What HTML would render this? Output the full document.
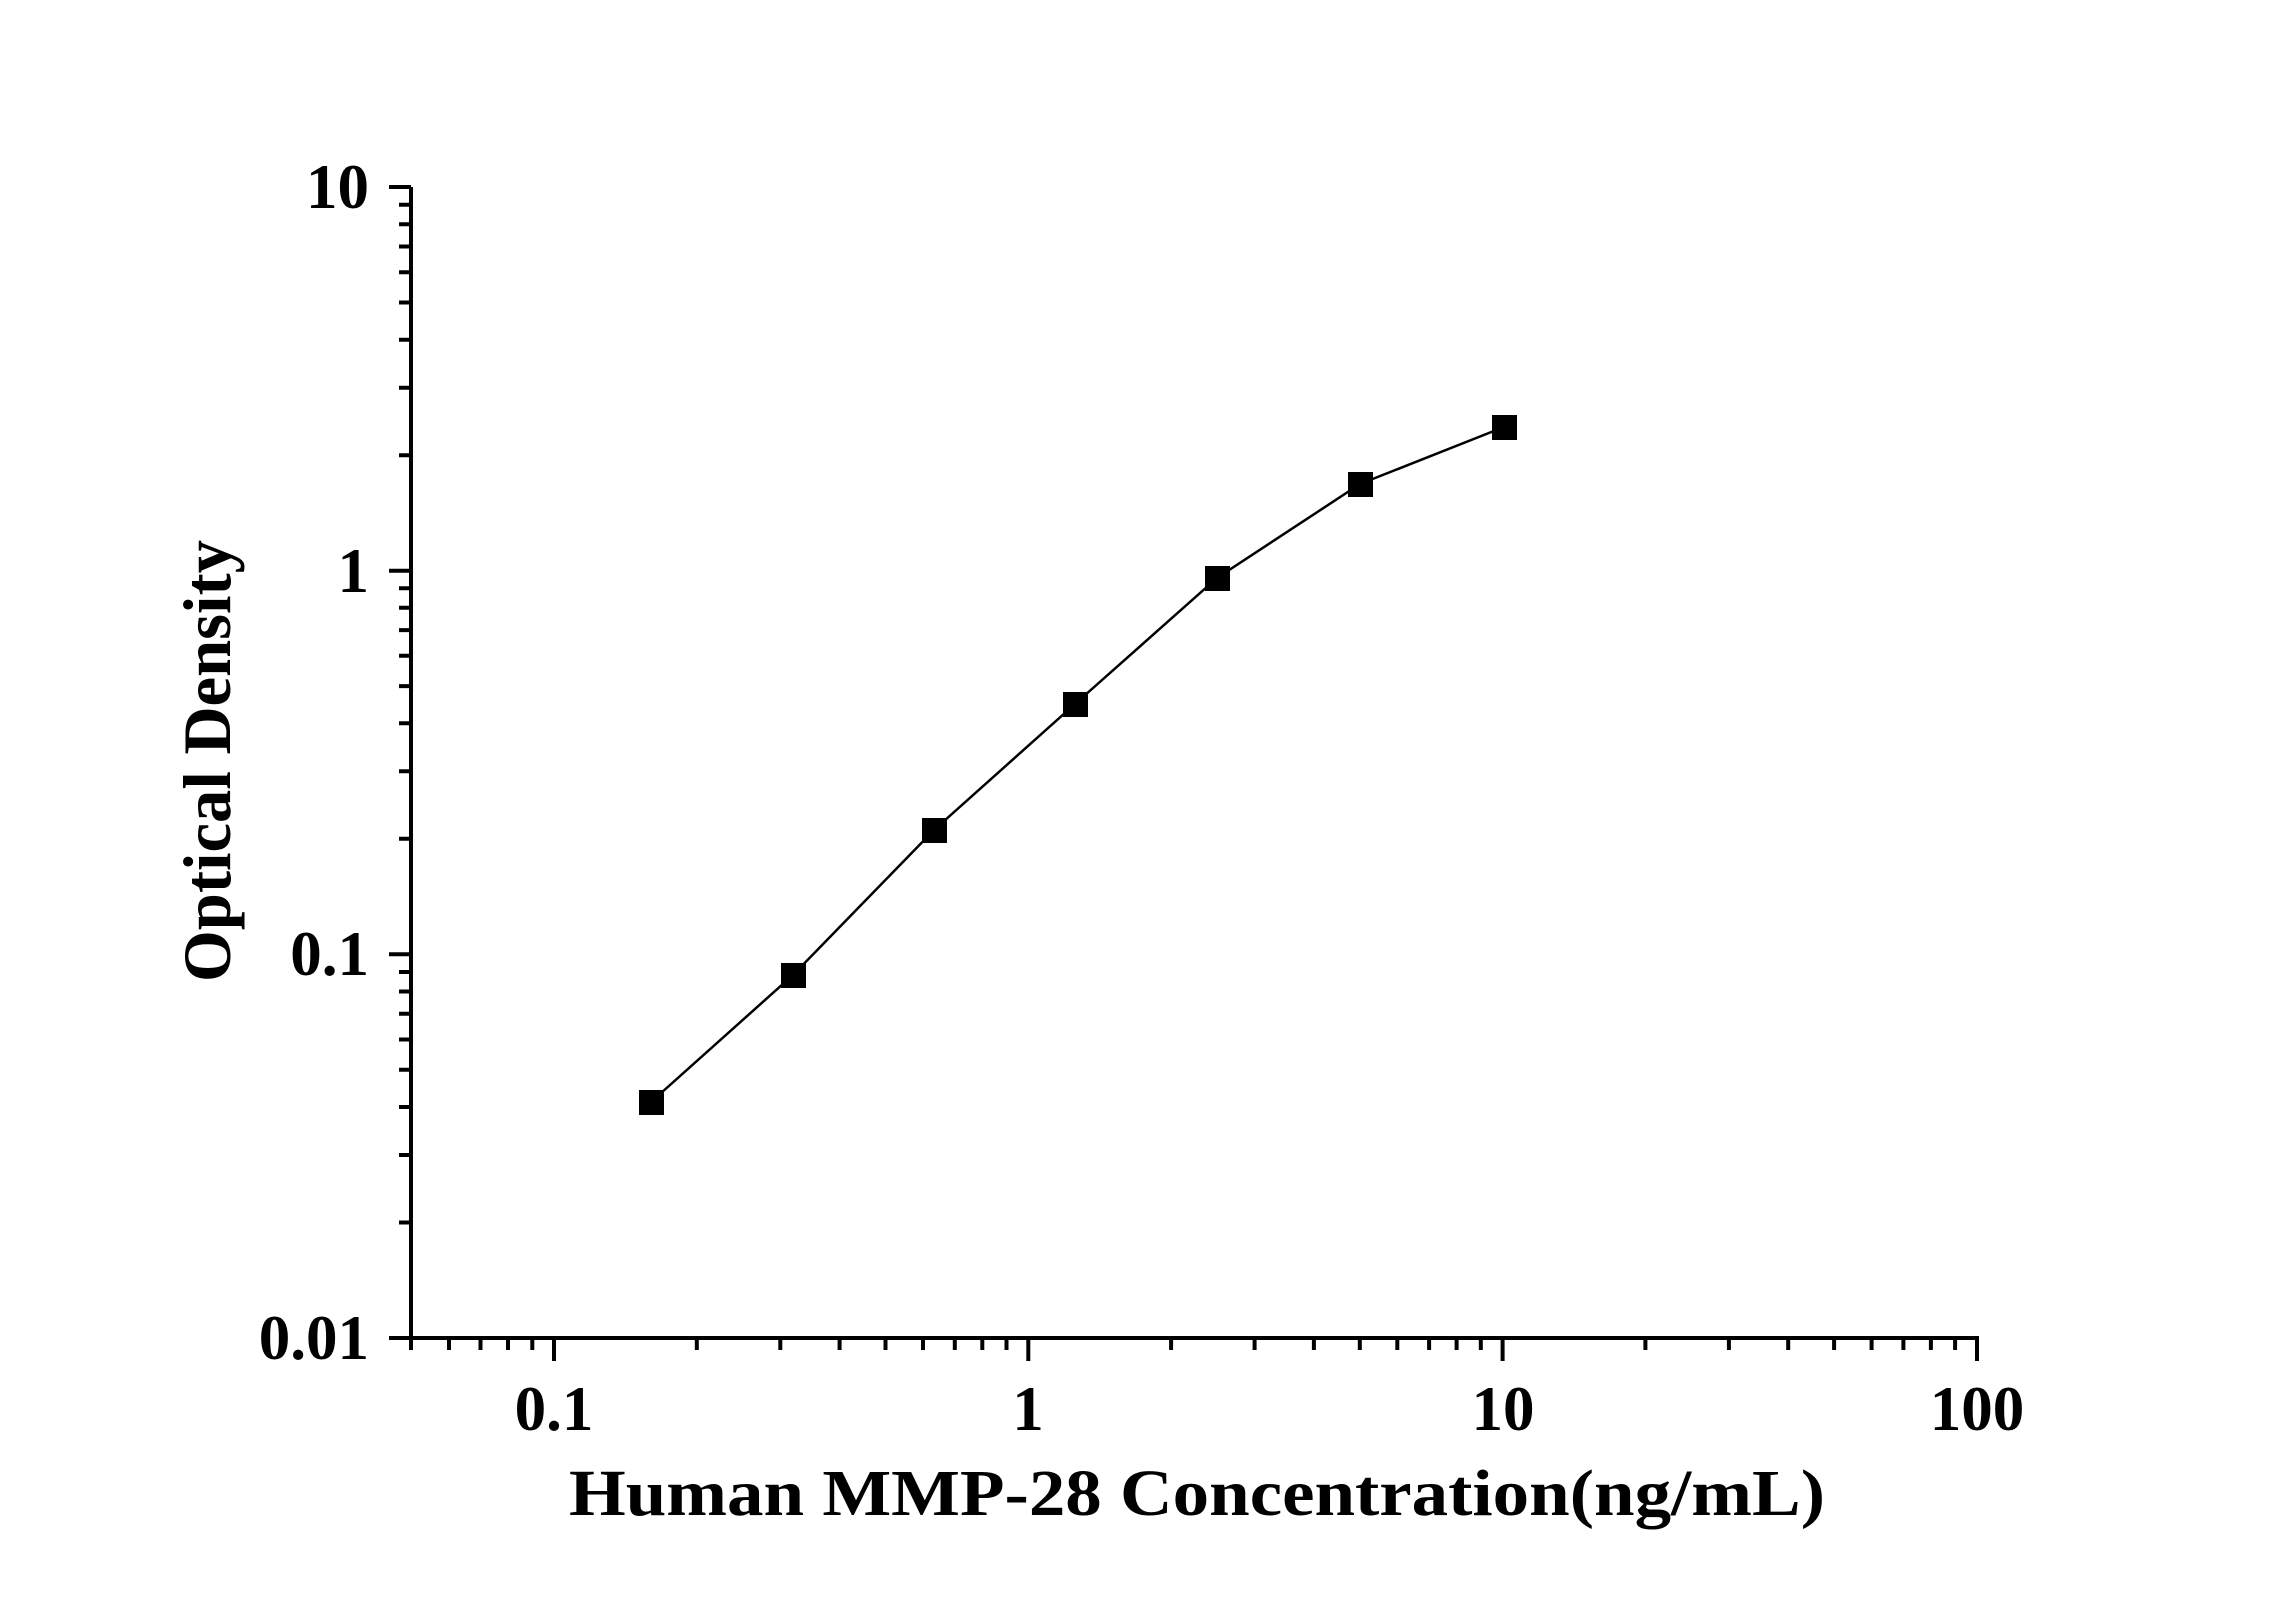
<!DOCTYPE html>
<html><head><meta charset="utf-8"><style>html,body{margin:0;padding:0;background:#fff}</style></head>
<body>
<svg width="2296" height="1604" xmlns="http://www.w3.org/2000/svg" style="display:block">
<rect width="2296" height="1604" fill="#fff"/>
<g stroke="#000" stroke-width="4" fill="none">
<path d="M411,187 V1340 M409,1338 H1979"/>
<path d="M411,187 H389 M411,570.7 H389 M411,954.3 H389 M411,1338 H389"/>
<path d="M411,1222.5h-12M411,1155h-12M411,1107h-12M411,1069.8h-12M411,1039.5h-12M411,1013.8h-12M411,991.5h-12M411,972h-12
M411,838.8h-12M411,771.3h-12M411,723.3h-12M411,686.1h-12M411,655.8h-12M411,630.1h-12M411,607.8h-12M411,588.3h-12
M411,455.2h-12M411,387.7h-12M411,339.7h-12M411,302.5h-12M411,272.2h-12M411,246.5h-12M411,224.2h-12M411,204.7h-12"/>
<path d="M411,1338v12M554,1338v23M1028.3,1338v23M1502.6,1338v23M1977,1336v25"/>
<path d="M449,1338v12M480.5,1338v12M508,1338v12M532.3,1338v12
M696.8,1338v12M780.3,1338v12M839.6,1338v12M885.5,1338v12M923,1338v12M954.8,1338v12M982.3,1338v12M1006.5,1338v12
M1171.1,1338v12M1254.6,1338v12M1313.9,1338v12M1359.8,1338v12M1397.3,1338v12M1429.1,1338v12M1456.6,1338v12M1480.8,1338v12
M1645.4,1338v12M1728.9,1338v12M1788.2,1338v12M1834.1,1338v12M1871.6,1338v12M1903.4,1338v12M1930.9,1338v12M1955.1,1338v12"/>
</g>
<polyline points="651,1102 793,975 934,830 1075,704 1217,578 1360,484 1504,427" fill="none" stroke="#000" stroke-width="2.5"/>
<g fill="#000">
<rect x="639" y="1090" width="25" height="25"/>
<rect x="781" y="963" width="25" height="25"/>
<rect x="922" y="818" width="25" height="25"/>
<rect x="1063" y="692" width="25" height="25"/>
<rect x="1205" y="566" width="25" height="25"/>
<rect x="1348" y="472" width="25" height="25"/>
<rect x="1492" y="415" width="25" height="25"/>
</g>
<g font-family="Liberation Serif, serif" font-weight="bold" font-size="63" fill="#000">
<text x="369" y="208" text-anchor="end">10</text>
<text x="369" y="592" text-anchor="end">1</text>
<text x="369" y="975" text-anchor="end">0.1</text>
<text x="369" y="1359" text-anchor="end">0.01</text>
<text x="554" y="1430" text-anchor="middle">0.1</text>
<text x="1028" y="1430" text-anchor="middle">1</text>
<text x="1503" y="1430" text-anchor="middle">10</text>
<text x="1977" y="1430" text-anchor="middle">100</text>
<text x="1197" y="1515" text-anchor="middle" font-size="66" textLength="1256" lengthAdjust="spacingAndGlyphs">Human MMP-28 Concentration(ng/mL)</text>
<text transform="translate(230,761) rotate(-90)" text-anchor="middle" font-size="68" textLength="442" lengthAdjust="spacingAndGlyphs">Optical Density</text>
</g>
</svg>
</body></html>
